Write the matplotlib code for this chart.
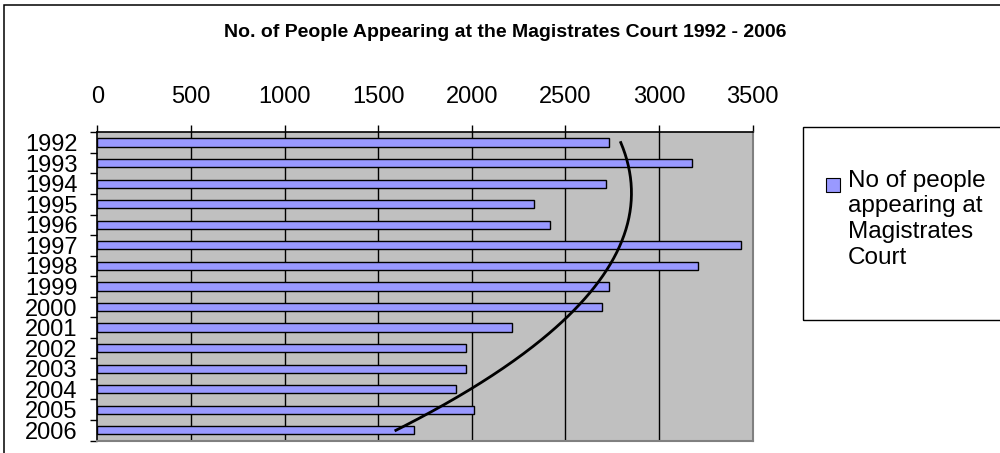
import numpy as np
import matplotlib
matplotlib.use("Agg")
import matplotlib.pyplot as plt
from matplotlib.patches import Rectangle

plt.rcParams['font.family'] = ['Liberation Sans', 'DejaVu Sans']

# data
years = ['1992', '1993', '1994', '1995', '1996', '1997', '1998', '1999',
         '2000', '2001', '2002', '2003', '2004', '2005', '2006']
people = [2730, 3175, 2715, 2330, 2420, 3440, 3210, 2735,
          2695, 2215, 1970, 1970, 1915, 2010, 1690]
x_ticks = [0, 500, 1000, 1500, 2000, 2500, 3000, 3500]

W, H = 1000, 453
fig = plt.figure(figsize=(10, 4.53), dpi=100)


def fx(px):
    return px / W


def fy(py):
    return 1 - py / H


# plot area (pixel box: 97.3..752.7 x 132.3..440.6)
ax = fig.add_axes([fx(97.3), fy(440.6), fx(752.7) - fx(97.3), fy(132.3) - fy(440.6)])
ax.set_facecolor('#C0C0C0')

pos = np.arange(len(years))
ax.barh(pos, people, height=0.4, color='#9999FF', edgecolor='black', linewidth=1.0, zorder=3)

# polynomial (order 2) trendline, as Excel draws it over category numbers 1..n
n = np.arange(1, len(people) + 1)
coef = np.polyfit(n, people, 2)
tt = np.linspace(1, len(people), 200)
ax.plot(np.polyval(coef, tt), tt - 1, color='black', lw=2, zorder=4)

ax.set_xlim(0, 3500)
ax.set_ylim(len(years) - 0.5, -0.5)

ax.xaxis.tick_top()
ax.set_xticks(x_ticks)
ax.set_xticklabels([str(v) for v in x_ticks])
ax.tick_params(axis='x', which='major', length=5, width=1, color='black',
               labelsize=17, pad=12.5)
for v in x_ticks[1:-1]:
    ax.axvline(v, color='black', lw=1, zorder=2)

ax.set_yticks(pos)
ax.set_yticklabels(years)
ax.set_yticks(np.arange(-0.5, len(years), 1), minor=True)
ax.tick_params(axis='y', which='major', length=0, labelsize=17, pad=14)
ax.tick_params(axis='y', which='minor', length=5, width=1, color='black')

ax.spines['top'].set_color('black')
ax.spines['left'].set_color('black')
ax.spines['top'].set_linewidth(1.2)
ax.spines['left'].set_linewidth(1.2)
ax.spines['right'].set_color('#808080')
ax.spines['bottom'].set_color('#808080')
ax.spines['right'].set_linewidth(1.5)
ax.spines['bottom'].set_linewidth(1.5)

# title
fig.text(fx(505.5), fy(36.7), 'No. of People Appearing at the Magistrates Court 1992 - 2006',
         ha='center', va='baseline', fontsize=14, fontweight='bold')

# outer chart border (runs off the right and bottom edges)
fig.add_artist(Rectangle((fx(4), fy(H + 20)), 1.2, fy(5) - fy(H + 20),
                         transform=fig.transFigure, fill=False, edgecolor='black', lw=1.1))

# legend box, marker and text
fig.add_artist(Rectangle((fx(803.3), fy(320)), 0.3, fy(127.3) - fy(320),
                         transform=fig.transFigure, fill=False, edgecolor='black', lw=1.0))
fig.add_artist(Rectangle((fx(825.5), fy(191.5)), fx(14), 13.5 / H,
                         transform=fig.transFigure, facecolor='#9999FF',
                         edgecolor='black', lw=0.8))
fig.text(fx(847.5), fy(169.5), 'No of people\nappearing at\nMagistrates\nCourt',
         ha='left', va='top', fontsize=17.5, linespacing=1.22)

fig.savefig('out.png', dpi=100)
